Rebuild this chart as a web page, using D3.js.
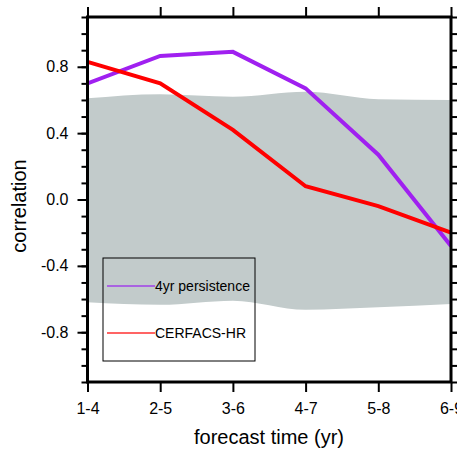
<!DOCTYPE html>
<html><head><meta charset="utf-8">
<script src="https://cdn.jsdelivr.net/npm/d3@7"></script>
<style>body{margin:0;background:#fff}svg{display:block}text{font-family:"Liberation Sans",Arial,sans-serif}</style>
</head><body><svg id="c" width="457" height="450"></svg>
<script>
const categories = ["1-4","2-5","3-6","4-7","5-8","6-9"];
const persistence = [0.70,0.865,0.89,0.67,0.27,-0.28];
const cerfacs = [0.83,0.70,0.42,0.08,-0.04,-0.20];
const bandUpper = [0.61,0.635,0.62,0.65,0.605,0.60];
const bandLower = [-0.62,-0.635,-0.61,-0.665,-0.65,-0.63];
const yMajorTicks = [-0.8,-0.4,0.0,0.4,0.8];
const yMinorTicks = d3.range(-11,12).map(i=>i/10);
const seriesNames = ["4yr persistence","CERFACS-HR"];

const svg = d3.select("#c");
const L=87.5,R=451,T=17,B=382;
const x = d3.scalePoint().domain(categories).range([L,R]);
const y = d3.scaleLinear().domain([-1.1,1.1]).range([B,T]);

svg.append("defs").append("clipPath").attr("id","cp").append("rect")
  .attr("x",L).attr("y",T).attr("width",R-L).attr("height",B-T);

const band = d3.area().x((d,i)=>x(categories[i])).y0((d,i)=>y(bandLower[i])).y1(d=>y(d)).curve(d3.curveMonotoneX);
svg.append("path").datum(bandUpper).attr("d",band).attr("fill","#c2cbcb");

// legend
const lg = svg.append("g");
lg.append("rect").attr("x",103).attr("y",258).attr("width",152).attr("height",103)
  .attr("fill","none").attr("stroke","#000").attr("stroke-width",1);
const legCols=["#a040e8","#ff3030"], legY=[286,333];
seriesNames.forEach((n,i)=>{
  lg.append("line").attr("x1",107).attr("x2",155).attr("y1",legY[i]).attr("y2",legY[i])
    .attr("stroke",legCols[i]).attr("stroke-width",1.5);
  lg.append("text").attr("x",155).attr("y",legY[i]+5).attr("font-size",14).text(n);
});

const line = d3.line().x((d,i)=>x(categories[i])).y(d=>y(d));
const g = svg.append("g").attr("clip-path","url(#cp)");
g.append("path").datum(persistence).attr("d",line).attr("fill","none").attr("stroke","#a020f0").attr("stroke-width",4);
g.append("path").datum(cerfacs).attr("d",line).attr("fill","none").attr("stroke","#ff0000").attr("stroke-width",4);

// axes
const ax = svg.append("g");
function fmt(v){return d3.format(".1f")(v).replace("−","-");}
const yl = d3.axisLeft(y).tickValues(yMinorTicks).tickSize(6).tickFormat("");
const yl2 = d3.axisLeft(y).tickValues(yMajorTicks).tickSize(10).tickPadding(9).tickFormat(fmt);
const yr = d3.axisRight(y).tickValues(yMinorTicks).tickSize(6).tickFormat("");
const yr2 = d3.axisRight(y).tickValues(yMajorTicks).tickSize(10).tickFormat("");
const xb = d3.axisBottom(x).tickSize(10).tickPadding(11);
const xt = d3.axisTop(x).tickSize(10).tickFormat("");
[[yl,L],[yl2,L],[yr,R],[yr2,R]].forEach(([a,tx])=>{
  ax.append("g").attr("transform",`translate(${tx},0)`).call(a);
});
ax.append("g").attr("transform",`translate(0,${B})`).call(xb);
ax.append("g").attr("transform",`translate(0,${T})`).call(xt);
ax.selectAll(".domain").remove();
ax.selectAll(".tick line").attr("stroke","#000").attr("stroke-width",2);
ax.selectAll(".tick text").attr("font-size",16).attr("fill","#000").attr("font-family","Liberation Sans, Arial, sans-serif");
svg.append("rect").attr("x",L).attr("y",T).attr("width",R-L).attr("height",B-T)
  .attr("fill","none").attr("stroke","#000").attr("stroke-width",3);

svg.append("text").attr("x",269).attr("y",444).attr("text-anchor","middle").attr("font-size",20).text("forecast time (yr)");
svg.append("text").attr("transform","translate(26,206) rotate(-90)").attr("text-anchor","middle").attr("font-size",20).text("correlation");
</script></body></html>
